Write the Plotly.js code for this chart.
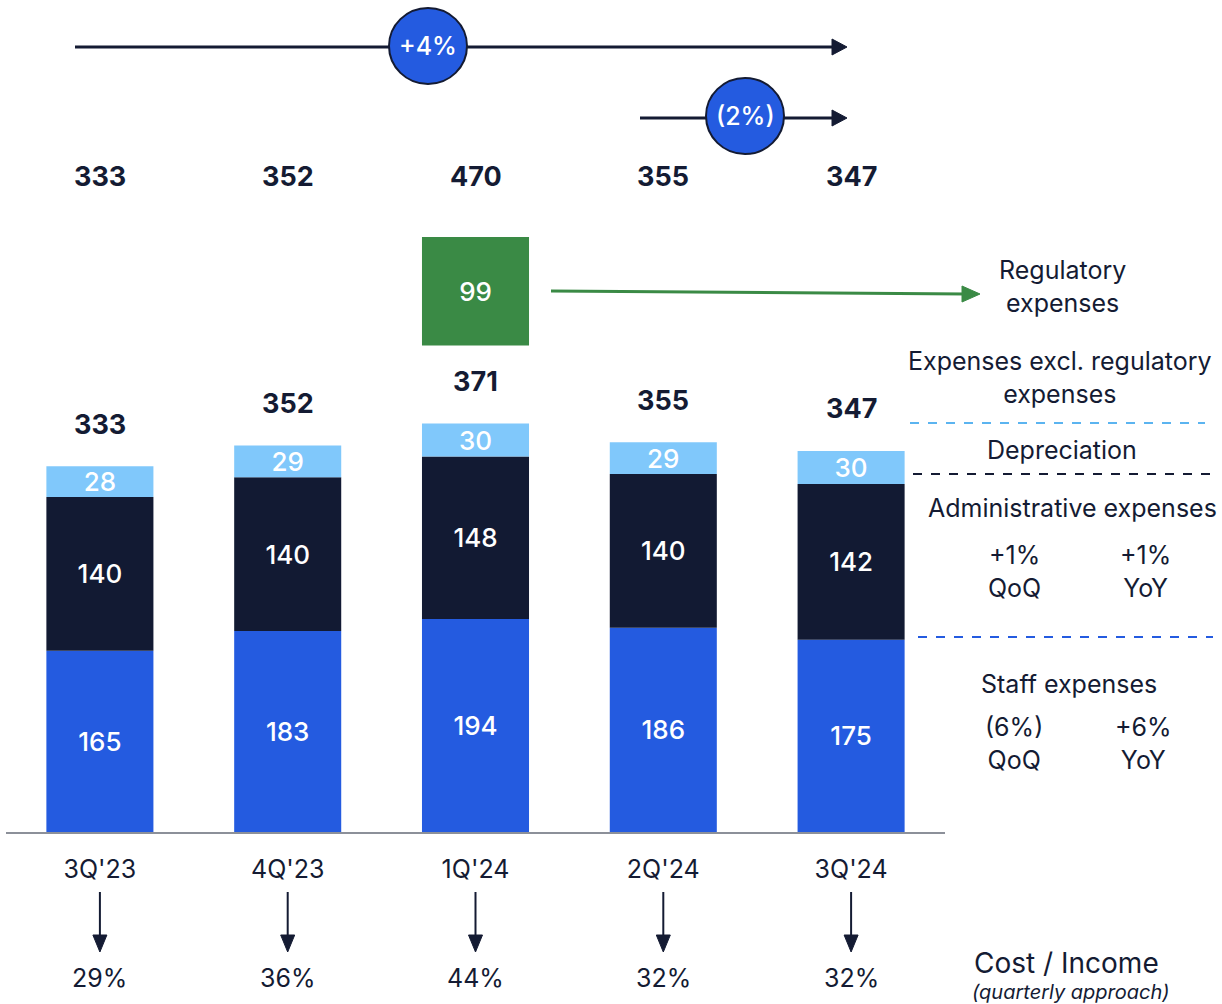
<!DOCTYPE html>
<html>
<head>
<meta charset="utf-8">
<script src="https://cdn.plot.ly/plotly-3.0.1.min.js"></script>
<style>html,body{margin:0;padding:0;background:#fff;}#chart{width:1222px;height:1004px;}</style>
</head>
<body>
<div id="chart"></div>
<script>
const categories = ["3Q'23", "4Q'23", "1Q'24", "2Q'24", "3Q'24"];
const staffExpenses = [165, 183, 194, 186, 175];
const adminExpenses = [140, 140, 148, 140, 142];
const depreciation = [28, 29, 30, 29, 30];
const regulatoryCategory = ["1Q'24"];
const regulatoryExpenses = [99];
const totalsExclRegulatory = [333, 352, 371, 355, 347];
const totalsInclRegulatory = [333, 352, 470, 355, 347];
const costIncome = ["29%", "36%", "44%", "32%", "32%"];
const growthLabels = ["+4%", "(2%)"];
const adminChange = ["+1%", "+1%"];
const staffChange = ["(6%)", "+6%"];

const NAVY = '#141B33';
const BLUE = '#245BE0';
const DARKBAR = '#121A33';
const LIGHT = '#80C8FB';
const GREEN = '#3A8A45';
const FONT = 'Inter, "Noto Sans", sans-serif';

// layout geometry helpers (pixel -> paper)
const W = 1222, H = 1004, ML = 6, MR = 277, MT = 0, MB = 172;
const PW = W - ML - MR, PH = H - MT - MB;
const X = px => (px - ML) / PW;
const Y = py => (H - MB - py) / PH;
const CX = i => (i + 0.5) / categories.length;

const adminBase = staffExpenses.slice();
const depBase = staffExpenses.map((v, i) => v + adminExpenses[i]);

const barW = 0.57;
function barTrace(name, x, y, base, color) {
  return {type: 'bar', name: name, x: x, y: y, base: base, width: barW,
    marker: {color: color, line: {width: 0}}, text: y.map(String), textposition: 'inside', insidetextanchor: 'middle',
    constraintext: 'none', textangle: 0, textfont: {color: '#fff', size: 26, family: FONT, weight: 500}, hoverinfo: 'skip'};
}
const traces = [
  barTrace('Staff expenses', categories, staffExpenses, 0, BLUE),
  barTrace('Administrative expenses', categories, adminExpenses, adminBase, DARKBAR),
  barTrace('Depreciation', categories, depreciation, depBase, LIGHT),
  barTrace('Regulatory expenses', regulatoryCategory, regulatoryExpenses, 443, GREEN)
];

const annotations = [];
const A = {showarrow: false, xanchor: 'center', yanchor: 'middle'};
// totals above stacks
categories.forEach((c, i) => {
  annotations.push(Object.assign({x: c, y: depBase[i] + depreciation[i], xref: 'x', yref: 'y', yshift: 42,
    text: '<b>' + totalsExclRegulatory[i] + '</b>', font: {size: 27, color: NAVY, family: FONT}}, A));
  annotations.push(Object.assign({x: c, y: Y(176), xref: 'x', yref: 'paper',
    text: '<b>' + totalsInclRegulatory[i] + '</b>', font: {size: 27, color: NAVY, family: FONT}}, A));
  annotations.push(Object.assign({x: c, y: Y(978), xref: 'x', yref: 'paper',
    text: costIncome[i], font: {size: 25, color: NAVY, family: FONT}}, A));
});

const shapes = [];
function arrowRight(x0, x1, py, color, w) {
  shapes.push({type: 'line', xref: 'paper', yref: 'paper', x0: X(x0), x1: X(x1 - 12), y0: Y(py), y1: Y(py),
    line: {color: color, width: w}});
  shapes.push({type: 'path', xref: 'paper', yref: 'paper',
    path: `M ${X(x1 - 15)},${Y(py - 8)} L ${X(x1)},${Y(py)} L ${X(x1 - 15)},${Y(py + 8)} Z`,
    fillcolor: color, line: {color: color, width: 1}});
}
arrowRight(75, 847, 47, NAVY, 3);
arrowRight(640, 847, 118, NAVY, 3);
shapes.push({type: 'circle', xref: 'paper', yref: 'paper', x0: X(389), x1: X(467), y0: Y(84), y1: Y(8),
  fillcolor: BLUE, line: {color: NAVY, width: 2}});
shapes.push({type: 'circle', xref: 'paper', yref: 'paper', x0: X(706), x1: X(784), y0: Y(154), y1: Y(78),
  fillcolor: BLUE, line: {color: NAVY, width: 2}});
annotations.push(Object.assign({x: X(428), y: Y(46), xref: 'paper', yref: 'paper', text: growthLabels[0],
  font: {size: 25, color: '#fff', family: FONT, weight: 500}}, A));
annotations.push(Object.assign({x: X(745), y: Y(116), xref: 'paper', yref: 'paper', text: growthLabels[1],
  font: {size: 25, color: '#fff', family: FONT, weight: 500}}, A));

// green arrow to regulatory label
shapes.push({type: 'line', xref: 'paper', yref: 'paper', x0: X(551), x1: X(966), y0: Y(291), y1: Y(294),
  line: {color: GREEN, width: 3}});
shapes.push({type: 'path', xref: 'paper', yref: 'paper',
  path: `M ${X(962)},${Y(286)} L ${X(980)},${Y(294)} L ${X(962)},${Y(302)} Z`,
  fillcolor: GREEN, line: {color: GREEN, width: 1}});

// down arrows to cost/income
categories.forEach((c, i) => {
  const cx = CX(i);
  const hw = 7 / PW;
  shapes.push({type: 'line', xref: 'paper', yref: 'paper', x0: cx, x1: cx, y0: Y(892), y1: Y(938),
    line: {color: NAVY, width: 2}});
  shapes.push({type: 'path', xref: 'paper', yref: 'paper',
    path: `M ${cx - hw},${Y(935)} L ${cx},${Y(952)} L ${cx + hw},${Y(935)} Z`,
    fillcolor: NAVY, line: {color: NAVY, width: 1}});
});

// dashed separators on right
shapes.push({type: 'line', xref: 'paper', yref: 'paper', x0: X(910), x1: X(1205), y0: Y(423), y1: Y(423),
  line: {color: '#5BB4F0', width: 2, dash: 'dash'}});
shapes.push({type: 'line', xref: 'paper', yref: 'paper', x0: X(913), x1: X(1210), y0: Y(474), y1: Y(474),
  line: {color: NAVY, width: 2, dash: 'dash'}});
shapes.push({type: 'line', xref: 'paper', yref: 'paper', x0: X(918), x1: X(1213), y0: Y(637), y1: Y(637),
  line: {color: BLUE, width: 2, dash: 'dash'}});

function rtext(px, py, txt, size) {
  annotations.push(Object.assign({x: X(px), y: Y(py), xref: 'paper', yref: 'paper', text: txt,
    align: 'center', font: {size: size || 25, color: NAVY, family: FONT}}, A));
}
rtext(1062, 286, 'Regulatory<br>expenses');
rtext(1060, 377, 'Expenses excl. regulatory<br>expenses');
rtext(1062, 450, 'Depreciation');
rtext(1072, 508, 'Administrative expenses');
rtext(1014, 571, adminChange[0] + '<br>QoQ');
rtext(1145, 571, adminChange[1] + '<br>YoY');
rtext(1069, 684, 'Staff expenses');
rtext(1014, 743, staffChange[0] + '<br>QoQ');
rtext(1143, 743, staffChange[1] + '<br>YoY');
rtext(1066, 963, 'Cost / Income', 28);
rtext(1071, 992, '<i>(quarterly approach)</i>', 20);

const layout = {
  width: W, height: H,
  margin: {l: ML, r: MR, t: MT, b: MB, pad: 0},
  paper_bgcolor: '#fff', plot_bgcolor: '#fff',
  barmode: 'overlay', showlegend: false,
  font: {family: FONT, color: NAVY},
  xaxis: {type: 'category', range: [-0.5, 4.5], showgrid: false, zeroline: false,
    showline: true, linecolor: '#8C9099', linewidth: 2,
    ticks: 'outside', ticklen: 14, tickcolor: 'rgba(0,0,0,0)',
    tickfont: {size: 25, color: NAVY, family: FONT}, fixedrange: true},
  yaxis: {range: [0, PH / 1.098], visible: false, fixedrange: true},
  shapes: shapes,
  annotations: annotations
};

Plotly.newPlot('chart', traces, layout, {displayModeBar: false, staticPlot: true});
</script>
</body>
</html>
